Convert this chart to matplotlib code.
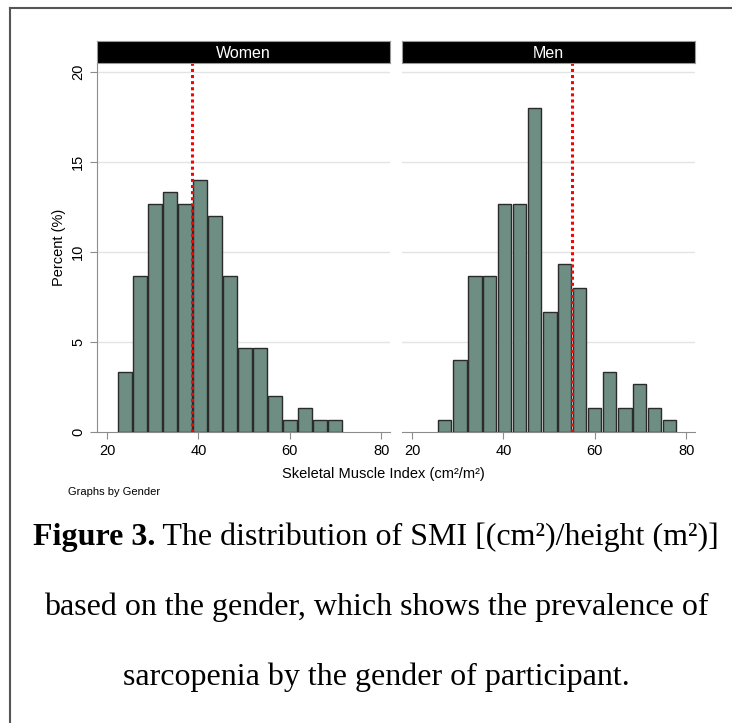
import numpy as np
import matplotlib.pyplot as plt
from matplotlib.lines import Line2D

# histogram data (percent per bin)
women_left = [22.3, 25.6, 28.9, 32.1, 35.4, 38.7, 42.0, 45.3, 48.5, 51.8, 55.1, 58.4, 61.7, 64.9, 68.2]
women_pct = [3.33, 8.67, 12.67, 13.33, 12.67, 14.0, 12.0, 8.67, 4.67, 4.67, 2.0, 0.67, 1.33, 0.67, 0.67]
men_left = [25.5, 28.8, 32.1, 35.3, 38.6, 41.9, 45.2, 48.5, 51.7, 55.0, 58.3, 61.6, 64.9, 68.1, 71.4, 74.7]
men_pct = [0.67, 4.0, 8.67, 8.67, 12.67, 12.67, 18.0, 6.67, 9.33, 8.0, 1.33, 3.33, 1.33, 2.67, 1.33, 0.67]
bin_width = 3.28
cutoffs = {'Women': 38.5, 'Men': 55.0}

plt.rcParams['font.family'] = ['Liberation Sans', 'DejaVu Sans']

W, H = 732, 723
fig = plt.figure(figsize=(W / 100, H / 100), dpi=100)

bar_color = '#6e8e84'
axis_gray = '#8c8c8c'

panels = [('Women', women_left, women_pct, 97), ('Men', men_left, men_pct, 402)]
ax_top, ax_bot = 63, 432
ax_w = 293
for name, lefts, pcts, x0 in panels:
    ax = fig.add_axes([x0 / W, 1 - ax_bot / H, ax_w / W, (ax_bot - ax_top) / H])
    centers = np.array(lefts) + bin_width / 2
    ax.bar(centers, pcts, width=2.95, color=bar_color, edgecolor='#2b2b2b',
           linewidth=1.0, zorder=3)
    ax.axvline(cutoffs[name], color='red', linestyle=(0, (1, 1)), linewidth=2.2, zorder=4)
    ax.set_xlim(17.8, 81.9)
    ax.set_ylim(0, 20.5)
    ax.set_xticks([20, 40, 60, 80])
    ax.set_yticks([0, 5, 10, 15, 20])
    for y in [5, 10, 15, 20]:
        ax.axhline(y, color='#e4e4e4', linewidth=1.0, zorder=1)
    for s in ['top', 'right']:
        ax.spines[s].set_visible(False)
    ax.spines['bottom'].set_color(axis_gray)
    ax.spines['left'].set_color(axis_gray)
    ax.tick_params(axis='both', colors=axis_gray, length=5, labelcolor='black', labelsize=10.5)
    if name == 'Women':
        for lab in ax.get_yticklabels():
            lab.set_rotation(90)
            lab.set_va('center')
        ax.set_ylabel('Percent (%)', fontsize=10.5, labelpad=4)
    else:
        ax.spines['left'].set_visible(False)
        ax.tick_params(axis='y', left=False, labelleft=False)

    # strip header
    sax = fig.add_axes([x0 / W, 1 - ax_top / H, ax_w / W, 22 / H])
    sax.set_facecolor('black')
    sax.set_xticks([])
    sax.set_yticks([])
    for s in sax.spines.values():
        s.set_color('#999999')
    sax.text(0.5, 0.45, name, color='white', fontsize=11.5, ha='center', va='center',
             transform=sax.transAxes)

fig.text(383 / W, 1 - 474 / H, 'Skeletal Muscle Index (cm²/m²)', fontsize=10.5,
         ha='center', va='center')
fig.text(68 / W, 1 - 492 / H, 'Graphs by Gender', fontsize=8, ha='left', va='center')

# caption: bold lead-in followed by regular text, centred as one line
cap_size = 23
cx = 376 / W
renderer = fig.canvas.get_renderer()
t_bold = fig.text(0, 1 - 537 / H, 'Figure 3.', family='Liberation Serif', weight='bold',
                  fontsize=cap_size, ha='left', va='center')
t_rest = fig.text(0, 1 - 537 / H, ' The distribution of SMI [(cm²)/height (m²)]',
                  family='Liberation Serif', fontsize=cap_size, ha='left', va='center')
wb = t_bold.get_window_extent(renderer).width / W
wr = t_rest.get_window_extent(renderer).width / W
start = cx - (wb + wr) / 2
t_bold.set_x(start)
t_rest.set_x(start + wb)

cap_kw = dict(family='Liberation Serif', fontsize=cap_size, ha='center', va='center')
fig.text(cx, 1 - 607 / H, 'based on the gender, which shows the prevalence of', **cap_kw)
fig.text(cx, 1 - 677 / H, 'sarcopenia by the gender of participant.', **cap_kw)

# page frame lines (left and top)
fig.add_artist(Line2D([10 / W, 10 / W], [0, 1 - 8 / H], color='#555555', linewidth=1.5,
                      transform=fig.transFigure))
fig.add_artist(Line2D([10 / W, 1], [1 - 8 / H, 1 - 8 / H], color='#555555', linewidth=1.5,
                      transform=fig.transFigure))

fig.savefig('out.png', dpi=100)
